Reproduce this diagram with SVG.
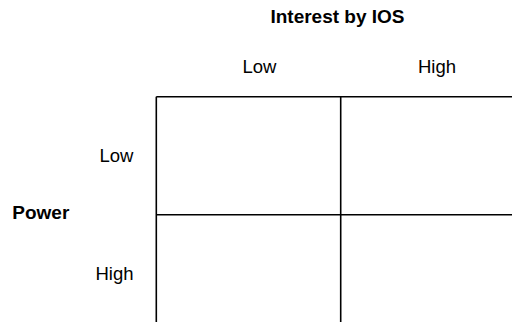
<svg xmlns="http://www.w3.org/2000/svg" width="512" height="322" viewBox="0 0 512 322">
<style>
.t{font-family:"Liberation Sans",Arial,sans-serif;font-size:18.5px;fill:#000}
.b{font-family:"Liberation Sans",Arial,sans-serif;font-size:19px;font-weight:bold;fill:#000}
.g{stroke:#000;stroke-width:1.6;fill:none}
</style>
<rect width="512" height="322" fill="#fff"/>
<g id="grid" class="g">
<line x1="156.3" y1="96.7" x2="512" y2="96.7"/>
<line x1="156.3" y1="214.7" x2="512" y2="214.7"/>
<line x1="156.3" y1="96.7" x2="156.3" y2="322"/>
<line x1="340.7" y1="96.7" x2="340.7" y2="322"/>
</g>
<g id="title"><text class="b" x="337.5" y="23" text-anchor="middle">Interest by IOS</text></g>
<g id="col-low"><text class="t" x="259.5" y="72.7" text-anchor="middle">Low</text></g>
<g id="col-high"><text class="t" x="437" y="72.7" text-anchor="middle">High</text></g>
<g id="power"><text class="b" x="12.3" y="219.3">Power</text></g>
<g id="row-low"><text class="t" x="133.5" y="162" text-anchor="end">Low</text></g>
<g id="row-high"><text class="t" x="133.5" y="279.5" text-anchor="end">High</text></g>
</svg>
